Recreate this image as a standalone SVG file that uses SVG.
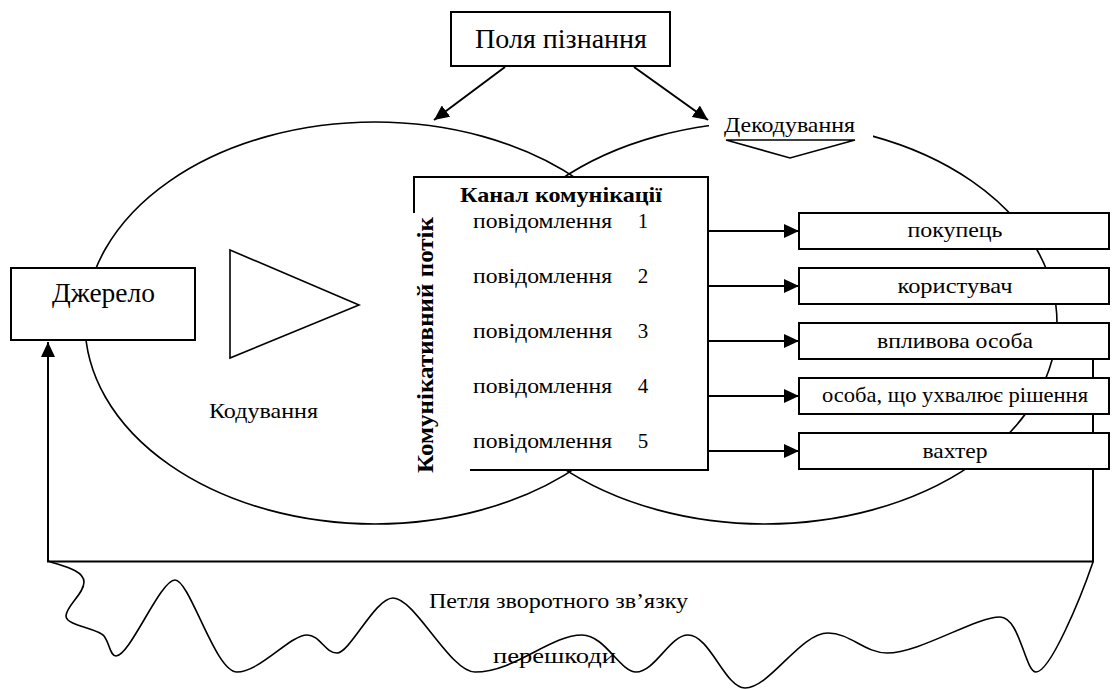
<svg xmlns="http://www.w3.org/2000/svg" width="1112" height="689" viewBox="0 0 1112 689" font-family="'Liberation Serif', 'DejaVu Serif', serif">
  <style>
    text { font-family: "Liberation Serif", "DejaVu Serif", serif; fill: #000; }
    .b { font-weight: bold; }
    .box { fill: #fff; stroke: #000; stroke-width: 2; }
    .oval { fill: none; stroke: #000; stroke-width: 1.6; }
    .ln { fill: none; stroke: #000; stroke-width: 2; }
    .shape { fill: #fff; stroke: #000; stroke-width: 1.6; }
  </style>
  <defs>
    <marker id="arrow" markerUnits="userSpaceOnUse" markerWidth="16" markerHeight="14" refX="15" refY="7" orient="auto">
      <path d="M0,0 L15,7 L0,14 z" fill="#000"/>
    </marker>
  </defs>

  <rect width="1112" height="689" fill="#fff"/>

  <!-- two overlapping fields of experience -->
  <g id="fields">
    <ellipse class="oval" cx="375" cy="323" rx="290" ry="201"/>
    <ellipse class="oval" cx="765" cy="323" rx="292" ry="201"/>
  </g>

  <!-- connectors -->
  <g id="connectors">
    <line class="ln" x1="505" y1="67" x2="434" y2="120" marker-end="url(#arrow)"/>
    <line class="ln" x1="634" y1="67" x2="708" y2="120" marker-end="url(#arrow)"/>
    <line class="ln" x1="708" y1="231" x2="799" y2="231" marker-end="url(#arrow)"/>
    <line class="ln" x1="708" y1="286" x2="799" y2="286" marker-end="url(#arrow)"/>
    <line class="ln" x1="708" y1="341" x2="799" y2="341" marker-end="url(#arrow)"/>
    <line class="ln" x1="708" y1="396" x2="799" y2="396" marker-end="url(#arrow)"/>
    <line class="ln" x1="708" y1="451" x2="799" y2="451" marker-end="url(#arrow)"/>
    <!-- feedback loop -->
    <polyline class="ln" points="1093,341 1093,561.5 48,561.5 48,342" marker-end="url(#arrow)"/>
  </g>

  <!-- noise -->
  <g id="noise">
    <path class="oval" d="M48,561 C62,566 84,570 84,582 C84,594 66,606 66,616 C66,626 98,628 104,636 C110,644 110,656 116,656 C130,656 160,580 175,580 C190,580 215,672 237,672 C260,672 290,635 307,635 C320,635 325,653 337,653 C350,653 375,598 393,598 C415,598 450,672 475,672 C515,672 550,635 582,635 C605,635 620,672 636,672 C655,672 670,635 688,635 C710,635 725,688 745,688 C770,688 800,633 828,633 C850,633 865,653 887,653 C920,653 975,617 1000,617 C1020,617 1025,672 1036,672 C1050,672 1080,600 1093,562"/>
    <text x="429" y="608" font-size="21" textLength="259" lengthAdjust="spacingAndGlyphs">Петля зворотного зв’язку</text>
    <text x="493" y="663" font-size="21" textLength="123" lengthAdjust="spacingAndGlyphs">перешкоди</text>
  </g>

  <g id="fields-of-knowledge">
    <rect class="box" x="451" y="12" width="219" height="54"/>
    <text x="475" y="48" font-size="27" textLength="172" lengthAdjust="spacingAndGlyphs">Поля пізнання</text>
  </g>

  <g id="source">
    <rect class="box" x="11" y="268" width="184" height="72"/>
    <text x="52" y="302" font-size="27" textLength="103" lengthAdjust="spacingAndGlyphs">Джерело</text>
  </g>

  <g id="encoding">
    <polygon class="shape" points="230,250 359,305 230,358"/>
    <text x="209" y="418" font-size="21" textLength="109" lengthAdjust="spacingAndGlyphs">Кодування</text>
  </g>

  <g id="decoding">
    <rect x="709" y="108" width="164" height="52" fill="#fff"/>
    <text x="724" y="132" font-size="21" textLength="131" lengthAdjust="spacingAndGlyphs">Декодування</text>
    <polygon class="shape" points="726,140 855,140 790,158"/>
  </g>

  <g id="channel">
    <rect x="414" y="177" width="294" height="293" fill="#fff"/>
    <path class="ln" d="M414,213 V177 H708 V470 H470"/>
    <text class="b" x="460" y="202" font-size="21" textLength="202" lengthAdjust="spacingAndGlyphs">Канал комунікації</text>
    <text class="b" transform="translate(433,345) rotate(-90)" x="0" y="0" font-size="23" text-anchor="middle" textLength="256" lengthAdjust="spacingAndGlyphs">Комунікативний потік</text>
    <g font-size="21">
      <text x="473" y="228" textLength="139" lengthAdjust="spacingAndGlyphs">повідомлення</text>
      <text x="643" y="228" text-anchor="middle">1</text>
      <text x="473" y="283" textLength="139" lengthAdjust="spacingAndGlyphs">повідомлення</text>
      <text x="643" y="283" text-anchor="middle">2</text>
      <text x="473" y="338" textLength="139" lengthAdjust="spacingAndGlyphs">повідомлення</text>
      <text x="643" y="338" text-anchor="middle">3</text>
      <text x="473" y="393" textLength="139" lengthAdjust="spacingAndGlyphs">повідомлення</text>
      <text x="643" y="393" text-anchor="middle">4</text>
      <text x="473" y="448" textLength="139" lengthAdjust="spacingAndGlyphs">повідомлення</text>
      <text x="643" y="448" text-anchor="middle">5</text>
    </g>
  </g>

  <g id="buyer">
    <rect class="box" x="799" y="213" width="310" height="36"/>
    <text x="955" y="237" font-size="21" text-anchor="middle" textLength="95" lengthAdjust="spacingAndGlyphs">покупець</text>
  </g>
  <g id="user">
    <rect class="box" x="799" y="268" width="310" height="36"/>
    <text x="955" y="293" font-size="21" text-anchor="middle" textLength="115" lengthAdjust="spacingAndGlyphs">користувач</text>
  </g>
  <g id="influencer">
    <rect class="box" x="799" y="323" width="310" height="36"/>
    <text x="955" y="348" font-size="21" text-anchor="middle" textLength="156" lengthAdjust="spacingAndGlyphs">впливова особа</text>
  </g>
  <g id="decider">
    <rect class="box" x="799" y="378" width="310" height="36"/>
    <text x="955" y="402" font-size="21" text-anchor="middle" textLength="266" lengthAdjust="spacingAndGlyphs">особа, що ухвалює рішення</text>
  </g>
  <g id="gatekeeper">
    <rect class="box" x="799" y="433" width="310" height="36"/>
    <text x="955" y="458" font-size="21" text-anchor="middle" textLength="65" lengthAdjust="spacingAndGlyphs">вахтер</text>
  </g>
</svg>
